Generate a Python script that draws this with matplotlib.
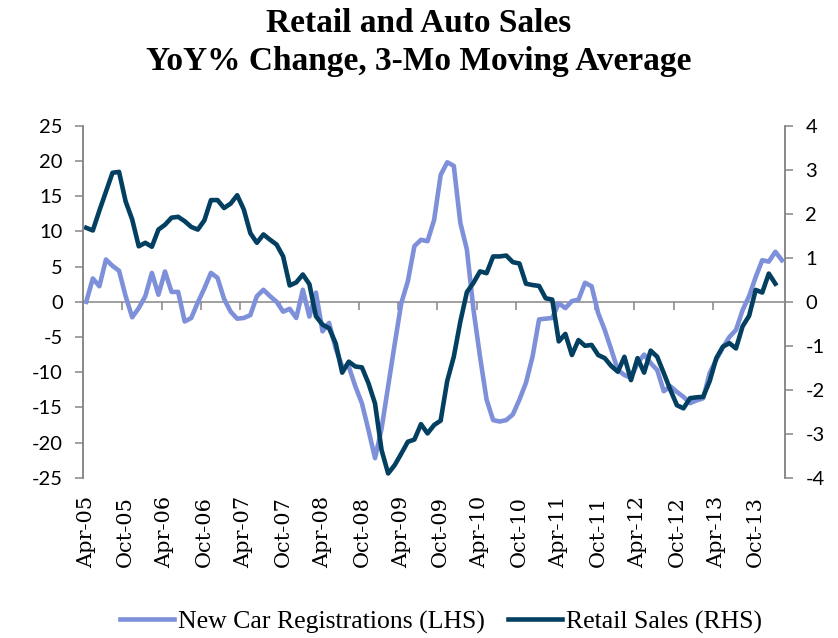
import numpy as np
import matplotlib.pyplot as plt

# monthly, Apr-05 .. Feb-14
car_regs = [0.0, 3.3, 2.2, 6.0, 5.1, 4.4, 0.8, -2.2, -0.9, 0.8,
            4.1, 1.0, 4.3, 1.4, 1.4, -2.8, -2.3, -0.1, 1.9, 4.1,
            3.4, 0.4, -1.4, -2.4, -2.3, -1.9, 0.8, 1.7, 0.8, 0.0,
            -1.4, -1.0, -2.3, 1.7, -2.1, 1.3, -4.2, -3.0, -6.6, -9.2,
            -9.2, -12.0, -14.4, -18.2, -22.2, -18.0, -12.0, -6.0, -0.2, 2.9,
            7.9, 8.8, 8.6, 11.6, 18.0, 19.8, 19.3, 11.2, 7.4, -1.1,
            -7.8, -13.9, -16.8, -17.0, -16.8, -16.0, -13.9, -11.5, -7.8, -2.5,
            -2.4, -2.3, -0.2, -0.9, 0.1, 0.3, 2.7, 2.2, -1.6, -4.0,
            -6.8, -9.7, -10.4, -10.8, -8.7, -7.5, -8.7, -9.7, -12.7, -12.0,
            -12.8, -13.5, -14.4, -14.0, -13.7, -10.1, -8.2, -6.5, -5.0, -4.0,
            -1.2, 0.8, 3.5, 5.9, 5.7, 7.1, 5.9]

# monthly, Apr-05 .. Jan-14
retail = [1.68, 1.62, 2.07, 2.5, 2.93, 2.95, 2.28, 1.87, 1.26, 1.34,
          1.25, 1.64, 1.75, 1.91, 1.93, 1.83, 1.70, 1.64, 1.85, 2.31,
          2.31, 2.13, 2.23, 2.42, 2.10, 1.56, 1.34, 1.53, 1.41, 1.30,
          1.03, 0.37, 0.44, 0.62, 0.40, -0.33, -0.52, -0.60, -0.94, -1.61,
          -1.36, -1.47, -1.49, -1.85, -2.31, -3.37, -3.90, -3.71, -3.45, -3.18,
          -3.13, -2.78, -2.99, -2.80, -2.70, -1.80, -1.25, -0.45, 0.22, 0.43,
          0.69, 0.65, 1.03, 1.03, 1.05, 0.90, 0.87, 0.41, 0.38, 0.36,
          0.08, 0.05, -0.90, -0.73, -1.21, -0.87, -1.00, -0.98, -1.21, -1.28,
          -1.46, -1.59, -1.25, -1.78, -1.28, -1.61, -1.11, -1.25, -1.62, -2.00,
          -2.35, -2.42, -2.19, -2.17, -2.16, -1.80, -1.28, -1.02, -0.94, -1.06,
          -0.56, -0.32, 0.27, 0.21, 0.64, 0.41]

tick_labels = ['Apr-05', 'Oct-05', 'Apr-06', 'Oct-06', 'Apr-07', 'Oct-07',
               'Apr-08', 'Oct-08', 'Apr-09', 'Oct-09', 'Apr-10', 'Oct-10',
               'Apr-11', 'Oct-11', 'Apr-12', 'Oct-12', 'Apr-13', 'Oct-13']

LIGHT = '#7d90d9'
DARK = '#023f60'
GREY = '#868686'
SANS = 'Lato'
SERIF = 'DejaVu Serif'

n = len(car_regs)
fig = plt.figure(figsize=(8.38, 6.38), dpi=100)
ax = fig.add_axes([0.099, 0.251, 0.838, 0.552])
ax2 = ax.twinx()

l1, = ax.plot(np.arange(n), car_regs, color=LIGHT, lw=3.3, zorder=3,
              solid_joinstyle='round', label='New Car Registrations (LHS)')
l2, = ax2.plot(np.arange(len(retail)), retail, color=DARK, lw=3.3,
               solid_joinstyle='round', label='Retail Sales (RHS)')

ax.set_xlim(-0.5, n - 0.5)
ax.set_ylim(-25, 25)
ax2.set_ylim(-4, 4)
ax.set_yticks(np.arange(-25, 26, 5))
ax2.set_yticks(np.arange(-4, 5, 1))

# category axis sits on the zero line, ticks between categories
ax.spines['bottom'].set_position(('data', 0))
ax.set_xticks(np.arange(-0.5, n, 6))
ax.tick_params(axis='x', direction='out', length=5.5, width=1.1,
               color=GREY, labelbottom=False)
for a in (ax, ax2):
    a.spines['top'].set_visible(False)
    for s in ('left', 'right', 'bottom'):
        a.spines[s].set_color(GREY)
        a.spines[s].set_linewidth(1.1)
ax2.spines['bottom'].set_visible(False)

ax.tick_params(axis='y', length=5.5, width=1.1, color=GREY, pad=9)
ax2.tick_params(axis='y', length=5.5, width=1.1, color=GREY, pad=9)
ax.set_yticklabels([f'{v:g}' for v in ax.get_yticks()], family=SANS, fontsize=14.5)
ax2.set_yticklabels([f'{v:g}' for v in ax2.get_yticks()], family=SANS, fontsize=14.5)

sec = ax.secondary_xaxis(0)
sec.set_xticks(np.arange(0, n, 6)[:len(tick_labels)])
sec.set_xticklabels(tick_labels, family=SERIF, fontsize=15, rotation=90)
sec.tick_params(length=0, pad=13)
sec.spines['bottom'].set_visible(False)

fig.suptitle('Retail and Auto Sales\nYoY% Change, 3-Mo Moving Average',
             x=0.5, y=0.988, va='top', fontsize=24, fontweight='bold',
             family='Liberation Serif', linespacing=1.3)

fig.legend(handles=[l1, l2], loc='center', bbox_to_anchor=(0.526, 0.025),
           ncol=2, frameon=False, handlelength=2.1, handletextpad=0.15,
           columnspacing=0.9, prop={'family': 'Liberation Serif', 'size': 18.5})

fig.savefig('out.png', dpi=100)
